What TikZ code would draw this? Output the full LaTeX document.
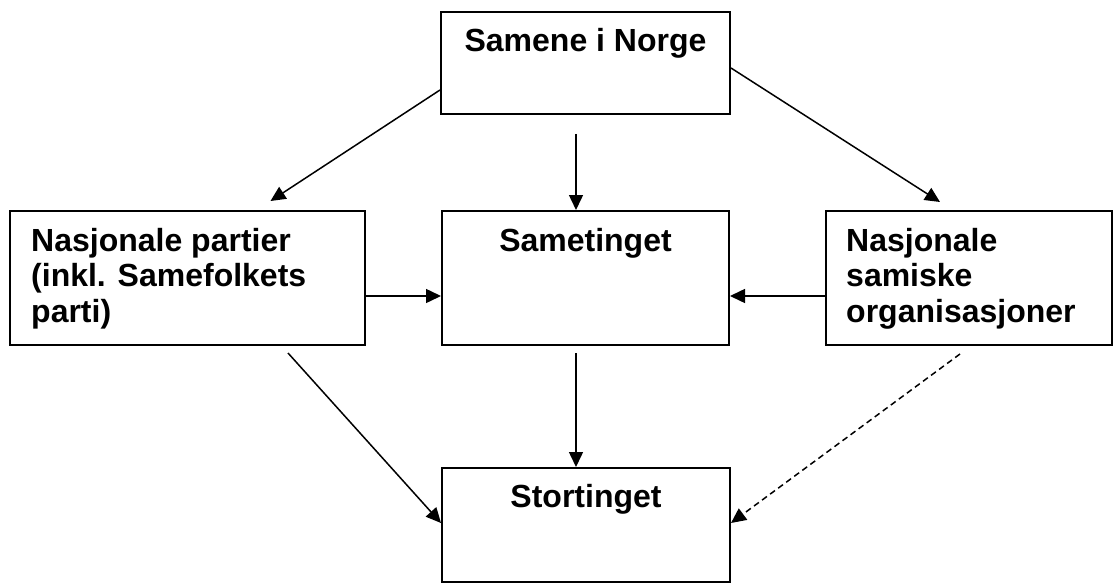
\documentclass[tikz,border=0pt]{standalone}
\usepackage{fontspec}
\setmainfont{Liberation Sans}
\usetikzlibrary{arrows.meta,calc}
\begin{document}
\begin{tikzpicture}[x=1pt,y=-1pt,
    kasse/.style={draw,line width=2pt,inner sep=0pt},
    tekst/.style={inner sep=0pt,font=\bfseries\fontsize{32}{35.5}\selectfont},
    pil/.style={line width=1.5pt,-{Triangle[length=15pt,width=14pt]}}]
  \useasboundingbox (0,0) rectangle (1114,583);
  \node[kasse,minimum width=289pt,minimum height=102pt] (samene) at (585.5,63) {};
  \node[kasse,minimum width=355pt,minimum height=134pt] (partier) at (187.5,278) {};
  \node[kasse,minimum width=287pt,minimum height=134pt] (sametinget) at (585.5,278) {};
  \node[kasse,minimum width=286pt,minimum height=134pt] (org) at (969,278) {};
  \node[kasse,minimum width=288pt,minimum height=114pt] (stortinget) at (586,525) {};
  % tekstene
  \node[tekst,anchor=base] at ($(samene.north)+(0,41)$) {Samene i Norge};
  \node[tekst,anchor=base] at ($(sametinget.north)+(0,41)$) {Sametinget};
  \node[tekst,anchor=base] at ($(stortinget.north)+(0,40)$) {Stortinget};
  \node[tekst,anchor=north west,align=left] at ($(partier.north west)+(22,18)$)
    {Nasjonale partier\\(inkl. Samefolkets\\parti)};
  \node[tekst,anchor=north west,align=left] at ($(org.north west)+(21,18)$)
    {Nasjonale\\samiske\\organisasjoner};
  % pilene
  \draw[pil] ($(samene.south west)+(0,-25)$) -- ($(partier.north)+(83,-9)$);
  \draw[pil] ($(samene.south)+(-9.5,19)$) -- ($(sametinget.north)+(-9.5,0)$);
  \draw[pil] ($(samene.north east)+(0,57)$) -- ($(org.north)+(-29,-8)$);
  \draw[pil] ($(partier.east)+(0,18)$) -- ($(sametinget.west)+(0,18)$);
  \draw[pil] ($(org.west)+(0,18)$) -- ($(sametinget.east)+(0,18)$);
  \draw[pil] ($(sametinget.south)+(-9.5,7)$) -- ($(stortinget.north)+(-10,0)$);
  \draw[pil] ($(partier.south)+(100.5,7)$) -- ($(stortinget.west)+(0,-2)$);
  \draw[pil,dash pattern=on 6pt off 4pt] ($(org.south)+(-9,8)$) -- ($(stortinget.east)+(0,-2)$);
\end{tikzpicture}
\end{document}
